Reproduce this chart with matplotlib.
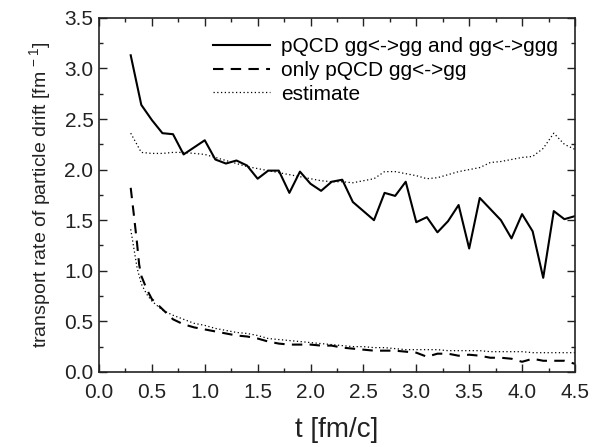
import numpy as np
import matplotlib.pyplot as plt
from matplotlib.ticker import MultipleLocator

plt.rcParams['font.family'] = ['Liberation Sans', 'DejaVu Sans']
plt.rcParams['mathtext.default'] = 'regular'

# time grid (fm/c)
t = [0.3, 0.4, 0.5, 0.6, 0.7, 0.8, 0.9, 1.0, 1.1, 1.2, 1.3, 1.4, 1.5, 1.6, 1.7,
     1.8, 1.9, 2.0, 2.1, 2.2, 2.3, 2.4, 2.5, 2.6, 2.7, 2.8, 2.9, 3.0, 3.1, 3.2,
     3.3, 3.4, 3.5, 3.6, 3.7, 3.8, 3.9, 4.0, 4.1, 4.2, 4.3, 4.4, 4.5]

# pQCD gg<->gg and gg<->ggg
full = [3.13, 2.64, 2.49, 2.36, 2.35, 2.15, 2.22, 2.29, 2.10, 2.06, 2.09, 2.04,
        1.91, 1.99, 1.99, 1.77, 1.98, 1.86, 1.79, 1.88, 1.90, 1.68, 1.59, 1.50,
        1.77, 1.74, 1.88, 1.48, 1.53, 1.38, 1.49, 1.65, 1.22, 1.72, 1.61, 1.50,
        1.32, 1.56, 1.39, 0.93, 1.59, 1.51, 1.54]

# estimate for the full case
est_full = [2.36, 2.17, 2.16, 2.16, 2.17, 2.17, 2.16, 2.15, 2.12, 2.09, 2.06,
            2.03, 2.01, 1.99, 1.97, 1.95, 1.93, 1.91, 1.89, 1.88, 1.88, 1.87,
            1.89, 1.91, 1.98, 1.98, 1.96, 1.94, 1.91, 1.92, 1.95, 1.98, 2.00,
            2.02, 2.07, 2.08, 2.10, 2.12, 2.13, 2.21, 2.36, 2.25, 2.20]

# only pQCD gg<->gg (finer sampling at early times)
t_el = [0.30, 0.33, 0.36, 0.38, 0.40, 0.45, 0.5, 0.6, 0.7, 0.8, 0.9, 1.0, 1.1,
        1.2, 1.3, 1.4, 1.5, 1.6, 1.7, 1.8, 1.9, 2.0, 2.1, 2.2, 2.3, 2.4, 2.5,
        2.6, 2.7, 2.8, 2.9, 3.0, 3.1, 3.2, 3.3, 3.4, 3.5, 3.6, 3.7, 3.8, 3.9,
        4.0, 4.1, 4.2, 4.3, 4.4, 4.5]
elastic = [1.82, 1.55, 1.27, 1.06, 0.95, 0.82, 0.72, 0.62, 0.52, 0.47, 0.44,
           0.42, 0.40, 0.38, 0.36, 0.35, 0.33, 0.30, 0.28, 0.27, 0.27, 0.27,
           0.26, 0.26, 0.24, 0.23, 0.22, 0.21, 0.21, 0.21, 0.20, 0.19, 0.15,
           0.18, 0.18, 0.16, 0.17, 0.16, 0.14, 0.14, 0.13, 0.10, 0.13, 0.11,
           0.11, 0.11, 0.08]

# estimate for the elastic-only case
t_est_el = [0.30, 0.33, 0.36, 0.40, 0.45, 0.5, 0.6, 0.7, 0.8, 0.9, 1.0, 1.1,
            1.2, 1.3, 1.4, 1.5, 1.6, 1.7, 1.8, 1.9, 2.0, 2.1, 2.2, 2.3, 2.4,
            2.5, 2.6, 2.7, 2.8, 2.9, 3.0, 3.1, 3.2, 3.3, 3.4, 3.5, 3.6, 3.7,
            3.8, 3.9, 4.0, 4.1, 4.2, 4.3, 4.4, 4.5]
est_el = [1.41, 1.22, 1.03, 0.87, 0.77, 0.70, 0.61, 0.56, 0.52, 0.48, 0.46,
          0.43, 0.41, 0.39, 0.38, 0.36, 0.33, 0.32, 0.31, 0.30, 0.29, 0.28,
          0.27, 0.26, 0.25, 0.25, 0.24, 0.24, 0.23, 0.22, 0.22, 0.22, 0.22,
          0.21, 0.21, 0.21, 0.21, 0.20, 0.20, 0.20, 0.20, 0.19, 0.19, 0.19,
          0.19, 0.19]

fig = plt.figure(figsize=(6.11, 4.47), dpi=100)
ax = fig.add_axes([0.162, 0.168, 0.779, 0.792])

ax.plot(t, full, color='black', lw=1.5, label='pQCD gg<->gg and gg<->ggg')
ax.plot(t_el, elastic, color='black', lw=1.5, ls=(0, (5, 3.5)),
        label='only pQCD gg<->gg')
ax.plot(t, est_full, color='black', lw=0.9, ls=(0, (1, 2)), label='estimate')
ax.plot(t_est_el, est_el, color='black', lw=0.9, ls=(0, (1, 2)))

ax.set_xlim(0, 4.5)
ax.set_ylim(0, 3.5)
ax.xaxis.set_major_locator(MultipleLocator(0.5))
ax.xaxis.set_minor_locator(MultipleLocator(0.25))
ax.yaxis.set_major_locator(MultipleLocator(0.5))
ax.yaxis.set_minor_locator(MultipleLocator(0.25))
ax.xaxis.set_major_formatter(plt.FormatStrFormatter('%.1f'))
ax.yaxis.set_major_formatter(plt.FormatStrFormatter('%.1f'))
ax.tick_params(which='both', direction='in', top=True, right=True,
               labelsize=15, colors='#222222', width=1)
ax.tick_params(which='major', length=6, pad=4)
ax.tick_params(which='minor', length=3)
ax.tick_params(axis='x', which='major', pad=8)
for s in ax.spines.values():
    s.set_linewidth(1.2)
    s.set_color('#222222')

ax.set_xlabel('t [fm/c]', fontsize=20, labelpad=11, color='#222222')
ax.set_ylabel('transport rate of particle drift [fm$^{\\,-1}$]', fontsize=14,
              labelpad=8, color='#222222')

ax.legend(loc='upper left', bbox_to_anchor=(0.239, 0.945), frameon=False,
          fontsize=15, handlelength=2.75, handletextpad=0.55, labelspacing=0.22,
          borderaxespad=0, borderpad=0)

fig.savefig('out.png', dpi=100)
